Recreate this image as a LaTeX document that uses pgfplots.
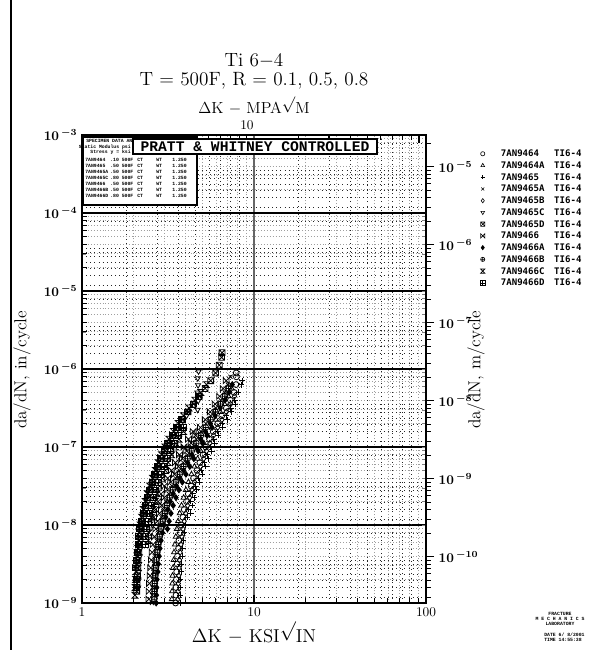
\documentclass[border=0pt]{standalone}
\usepackage{fontspec}
\usepackage{pgfplots}
\pgfplotsset{compat=1.18}
\newfontfamily\monofont{Liberation Mono}
\newfontfamily\legfont{DejaVu Sans Mono}
\newcommand{\rt}{\raisebox{0.3em}{$\surd$}}

% extra plot marks used by the specimen symbols
\pgfdeclareplotmark{boxx}{%
  \pgfpathrectangle{\pgfqpoint{-\pgfplotmarksize}{-\pgfplotmarksize}}{\pgfqpoint{2\pgfplotmarksize}{2\pgfplotmarksize}}%
  \pgfpathmoveto{\pgfqpoint{-\pgfplotmarksize}{-\pgfplotmarksize}}\pgfpathlineto{\pgfqpoint{\pgfplotmarksize}{\pgfplotmarksize}}%
  \pgfpathmoveto{\pgfqpoint{-\pgfplotmarksize}{\pgfplotmarksize}}\pgfpathlineto{\pgfqpoint{\pgfplotmarksize}{-\pgfplotmarksize}}%
  \pgfusepathqstroke}
\pgfdeclareplotmark{boxplus}{%
  \pgfpathrectangle{\pgfqpoint{-\pgfplotmarksize}{-\pgfplotmarksize}}{\pgfqpoint{2\pgfplotmarksize}{2\pgfplotmarksize}}%
  \pgfpathmoveto{\pgfqpoint{-\pgfplotmarksize}{0pt}}\pgfpathlineto{\pgfqpoint{\pgfplotmarksize}{0pt}}%
  \pgfpathmoveto{\pgfqpoint{0pt}{\pgfplotmarksize}}\pgfpathlineto{\pgfqpoint{0pt}{-\pgfplotmarksize}}%
  \pgfusepathqstroke}
\pgfdeclareplotmark{bowtie}{%
  \pgfpathmoveto{\pgfqpoint{-\pgfplotmarksize}{\pgfplotmarksize}}\pgfpathlineto{\pgfqpoint{\pgfplotmarksize}{-\pgfplotmarksize}}%
  \pgfpathlineto{\pgfqpoint{\pgfplotmarksize}{\pgfplotmarksize}}\pgfpathlineto{\pgfqpoint{-\pgfplotmarksize}{-\pgfplotmarksize}}%
  \pgfpathclose\pgfusepathqstroke}
\pgfdeclareplotmark{hourglass}{%
  \pgfpathmoveto{\pgfqpoint{-\pgfplotmarksize}{\pgfplotmarksize}}\pgfpathlineto{\pgfqpoint{\pgfplotmarksize}{\pgfplotmarksize}}%
  \pgfpathlineto{\pgfqpoint{-\pgfplotmarksize}{-\pgfplotmarksize}}\pgfpathlineto{\pgfqpoint{\pgfplotmarksize}{-\pgfplotmarksize}}%
  \pgfpathclose\pgfusepathqstroke}

\pgfplotsset{
  frame/.style={at={(61.5pt,35.25pt)}, anchor=south west, width=258pt, height=351pt, scale only axis},
  spec/.style={only marks, black, mark size=2.2pt, line width=0.6pt},
  tlab/.style={font=\fontsize{10}{11}\selectfont\boldmath},
}

\begin{document}
\begin{tikzpicture}[x=0.75pt, y=0.75pt]
\path[use as bounding box] (0,0) rectangle (613,650);
\draw[line width=0.8pt] (11,0) -- (11,650);

% fine dotted grid of the inch / ksi scales
\begin{axis}[frame, xmode=log, ymode=log, xmin=1, xmax=100, ymin=1e-9, ymax=1e-3,
  xtick={1,10,100}, ytick={1e-9,1e-3},
  minor xtick={2,3,4,5,6,7,8,9,20,30,40,50,60,70,80,90},
  minor ytick={2e-9,3e-9,4e-9,5e-9,6e-9,7e-9,8e-9,9e-9,2e-8,3e-8,4e-8,5e-8,6e-8,7e-8,8e-8,9e-8,
    2e-7,3e-7,4e-7,5e-7,6e-7,7e-7,8e-7,9e-7,2e-6,3e-6,4e-6,5e-6,6e-6,7e-6,8e-6,9e-6,
    2e-5,3e-5,4e-5,5e-5,6e-5,7e-5,8e-5,9e-5,2e-4,3e-4,4e-4,5e-4,6e-4,7e-4,8e-4,9e-4},
  xminorgrids, yminorgrids,
  minor grid style={gray!75, line width=0.5pt, dash pattern=on 0.6pt off 1.6pt},
  major tick length=0pt, minor tick length=0pt, xticklabels={}, yticklabels={},
  axis line style={draw=none}]
\end{axis}

% decade lines
\begin{axis}[frame, xmode=log, ymode=log, xmin=1, xmax=100, ymin=1e-9, ymax=1e-3,
  xtick={10}, ytick={1e-8,1e-7,1e-6,1e-5,1e-4},
  xmajorgrids, ymajorgrids,
  x grid style={gray!80!black, line width=1.3pt},
  y grid style={black, line width=0.9pt},
  major tick length=0pt, xticklabels={}, yticklabels={},
  axis line style={draw=none}]
\end{axis}

% top scale: Delta K in MPa sqrt(m)
\begin{axis}[frame, xmode=log, xmin=1.0988, xmax=109.88, ymin=0, ymax=1,
  axis x line*=top, hide y axis,
  xtick={10,100}, xticklabels={10,{}},
  minor xtick={2,3,4,5,6,7,8,9,20,30,40,50,60,70,80,90},
  xminorgrids, minor grid style={black!85, line width=0.45pt, dash pattern=on 0.5pt off 2.6pt},
  tick align=inside, major tick length=6pt, minor tick length=4pt,
  every tick/.style={black, line width=0.8pt},
  axis line style={line width=1.8pt},
  xticklabel style={tlab}]
\end{axis}

% right scale: da/dN in m/cycle
\begin{axis}[frame, ymode=log, ymin=2.54e-11, ymax=2.54e-5, xmin=0, xmax=1,
  axis y line*=right, hide x axis,
  ytick={1e-10,1e-9,1e-8,1e-7,1e-6,1e-5},
  yticklabels={$10^{\,-10}$,$10^{\,-9}$,$10^{\,-8}$,$10^{\,-7}$,$10^{\,-6}$,$10^{\,-5}$},
  minor ytick={3e-11,4e-11,5e-11,6e-11,7e-11,8e-11,9e-11,2e-10,3e-10,4e-10,5e-10,6e-10,7e-10,8e-10,9e-10,
    2e-9,3e-9,4e-9,5e-9,6e-9,7e-9,8e-9,9e-9,2e-8,3e-8,4e-8,5e-8,6e-8,7e-8,8e-8,9e-8,
    2e-7,3e-7,4e-7,5e-7,6e-7,7e-7,8e-7,9e-7,2e-6,3e-6,4e-6,5e-6,6e-6,7e-6,8e-6,9e-6,2e-5},
  yminorgrids, minor grid style={black!85, line width=0.45pt, dash pattern=on 0.5pt off 2.6pt},
  tick align=outside, major tick length=6pt, minor tick length=3.5pt,
  every tick/.style={black, line width=0.8pt},
  axis line style={line width=1.8pt},
  yticklabel style={tlab}]
\end{axis}

% crack growth data, inch / ksi scales
\begin{axis}[frame, xmode=log, ymode=log, xmin=1, xmax=100, ymin=1e-9, ymax=1e-3,
  xtick={1,10,100}, xticklabels={1,10,100},
  minor xtick={2,3,4,5,6,7,8,9,20,30,40,50,60,70,80,90},
  ytick={1e-9,1e-8,1e-7,1e-6,1e-5,1e-4,1e-3},
  yticklabels={$10^{\,-9}$,$10^{\,-8}$,$10^{\,-7}$,$10^{\,-6}$,$10^{\,-5}$,$10^{\,-4}$,$10^{\,-3}$},
  minor ytick={2e-9,3e-9,4e-9,5e-9,6e-9,7e-9,8e-9,9e-9,2e-8,3e-8,4e-8,5e-8,6e-8,7e-8,8e-8,9e-8,
    2e-7,3e-7,4e-7,5e-7,6e-7,7e-7,8e-7,9e-7,2e-6,3e-6,4e-6,5e-6,6e-6,7e-6,8e-6,9e-6,
    2e-5,3e-5,4e-5,5e-5,6e-5,7e-5,8e-5,9e-5,2e-4,3e-4,4e-4,5e-4,6e-4,7e-4,8e-4,9e-4},
  xtick pos=bottom, ytick pos=left, tick align=inside,
  major tick length=6pt, minor tick length=3.5pt,
  every tick/.style={black, line width=0.8pt},
  axis line style={line width=1.8pt},
  tick label style={tlab},
  axis on top,
  legend style={at={(axis description cs:1.158,0.973)}, anchor=north west, draw=none, fill=none,
    inner sep=0pt, row sep=0pt, font=\legfont\bfseries\fontsize{6.8}{7}\selectfont,
    cells={anchor=west}, nodes={inner sep=0pt, text height=6.6pt, text depth=2.2pt},
    /tikz/every odd column/.append style={column sep=12pt}},
  legend image code/.code={\draw[#1, mark size=1.6pt, line width=0.45pt] plot coordinates {(0pt,0pt)};}]

% 7AN9464
\addplot[spec, mark=o] coordinates {(3.50,1.00e-9)(3.52,1.26e-9)(3.51,1.58e-9)(3.54,2.00e-9)(3.55,2.51e-9)(3.58,3.16e-9)(3.59,3.98e-9)(3.64,5.01e-9)(3.66,6.31e-9)(3.73,7.94e-9)(3.77,1.00e-8)(3.86,1.26e-8)(3.93,1.58e-8)(4.05,2.00e-8)(4.15,2.51e-8)(4.31,3.16e-8)(4.45,3.98e-8)(4.66,5.01e-8)(4.84,6.31e-8)(5.06,7.94e-8)(5.24,1.00e-7)(5.51,1.26e-7)(5.79,1.58e-7)(6.16,2.00e-7)(6.49,2.51e-7)(6.91,3.16e-7)(7.29,3.98e-7)(7.66,5.01e-7)(7.86,6.31e-7)(7.90,7.94e-7)(7.88,8.91e-7)};
\addlegendentry{\makebox[40pt][l]{7AN9464}TI6-4}
% 7AN9464A
\addplot[spec, mark=triangle] coordinates {(3.33,1.12e-9)(3.34,1.41e-9)(3.35,1.78e-9)(3.36,2.24e-9)(3.38,2.82e-9)(3.41,3.55e-9)(3.43,4.47e-9)(3.47,5.62e-9)(3.51,7.08e-9)(3.56,8.91e-9)(3.62,1.12e-8)(3.70,1.41e-8)(3.79,1.78e-8)(3.90,2.24e-8)(4.02,2.82e-8)(4.16,3.55e-8)(4.33,4.47e-8)(4.51,5.62e-8)(4.70,7.08e-8)(4.89,8.91e-8)(5.11,1.12e-7)(5.37,1.41e-7)(5.68,1.78e-7)(6.01,2.24e-7)(6.37,2.82e-7)(6.75,3.55e-7)(7.10,4.47e-7)(7.41,5.62e-7)};
\addlegendentry{\makebox[40pt][l]{7AN9464A}TI6-4}
% 7AN9465
\addplot[spec, mark=+] coordinates {(3.71,1.00e-9)(3.72,1.26e-9)(3.73,1.58e-9)(3.74,2.00e-9)(3.76,2.51e-9)(3.78,3.16e-9)(3.82,3.98e-9)(3.85,5.01e-9)(3.89,6.31e-9)(3.94,7.94e-9)(4.01,1.00e-8)(4.08,1.26e-8)(4.18,1.58e-8)(4.28,2.00e-8)(4.41,2.51e-8)(4.56,3.16e-8)(4.73,3.98e-8)(4.93,5.01e-8)(5.14,6.31e-8)(5.35,7.94e-8)(5.57,1.00e-7)(5.83,1.26e-7)(6.15,1.58e-7)(6.52,2.00e-7)(6.89,2.51e-7)(7.31,3.16e-7)(7.74,3.98e-7)(8.11,5.01e-7)(8.43,6.31e-7)(8.56,7.08e-7)
  (4.28,1.41e-8)(4.39,1.78e-8)(4.51,2.24e-8)(4.65,2.82e-8)(4.82,3.55e-8)(5.01,4.47e-8)(5.23,5.62e-8)(5.45,7.08e-8)(5.67,8.91e-8)(5.91,1.12e-7)(6.22,1.41e-7)(6.57,1.78e-7)(6.96,2.24e-7)(7.37,2.82e-7)(7.81,3.55e-7)};
\addlegendentry{\makebox[40pt][l]{7AN9465}TI6-4}
% 7AN9465A
\addplot[spec, mark=x] coordinates {(2.55,1.00e-9)(2.56,1.26e-9)(2.57,1.58e-9)(2.58,2.00e-9)(2.60,2.51e-9)(2.62,3.16e-9)(2.65,3.98e-9)(2.68,5.01e-9)(2.72,6.31e-9)(2.77,7.94e-9)(2.83,1.00e-8)(2.90,1.26e-8)(2.98,1.58e-8)(3.08,2.00e-8)(3.20,2.51e-8)(3.34,3.16e-8)(3.50,3.98e-8)(3.68,5.01e-8)(3.88,6.31e-8)(4.10,7.94e-8)(4.35,1.00e-7)(4.62,1.26e-7)(4.92,1.58e-7)(5.25,2.00e-7)(5.60,2.51e-7)(6.00,3.16e-7)(6.40,3.98e-7)(6.75,5.01e-7)(7.05,6.31e-7)(7.30,7.94e-7)};
\addlegendentry{\makebox[40pt][l]{7AN9465A}TI6-4}
% 7AN9465B
\addplot[spec, mark=diamond] coordinates {(3.61,1.12e-9)(3.62,1.41e-9)(3.63,1.78e-9)(3.65,2.24e-9)(3.67,2.82e-9)(3.69,3.55e-9)(3.72,4.47e-9)(3.76,5.62e-9)(3.81,7.08e-9)(3.86,8.91e-9)(3.93,1.12e-8)(4.01,1.41e-8)(4.11,1.78e-8)(4.22,2.24e-8)(4.36,2.82e-8)(4.51,3.55e-8)(4.69,4.47e-8)(4.89,5.62e-8)(5.10,7.08e-8)(5.30,8.91e-8)(5.54,1.12e-7)(5.82,1.41e-7)(6.15,1.78e-7)(6.51,2.24e-7)(6.90,2.82e-7)(7.31,3.55e-7)(7.70,4.47e-7)};
\addlegendentry{\makebox[40pt][l]{7AN9465B}TI6-4}
% 7AN9465C
\addplot[spec, mark=triangle, mark options={rotate=180}] coordinates {(2.12,1.58e-9)(2.13,2.00e-9)(2.14,2.51e-9)(2.15,3.16e-9)(2.17,3.98e-9)(2.19,5.01e-9)(2.21,6.31e-9)(2.23,7.94e-9)(2.26,1.00e-8)(2.32,1.26e-8)(2.37,1.58e-8)(2.43,2.00e-8)(2.50,2.51e-8)(2.58,3.16e-8)(2.67,3.98e-8)(2.77,5.01e-8)(2.89,6.31e-8)(3.02,7.94e-8)(3.16,1.00e-7)(3.34,1.26e-7)(3.54,1.58e-7)(3.77,2.00e-7)(4.05,2.51e-7)(4.70,3.00e-7)(4.74,3.90e-7)(4.68,5.00e-7)(4.73,6.20e-7)(4.71,7.60e-7)(4.76,9.30e-7)};
\addlegendentry{\makebox[40pt][l]{7AN9465C}TI6-4}
% 7AN9465D
\addplot[spec, mark=boxx] coordinates {(2.08,1.41e-9)(2.09,1.78e-9)(2.10,2.24e-9)(2.11,2.82e-9)(2.12,3.55e-9)(2.14,4.47e-9)(2.16,5.62e-9)(2.18,7.08e-9)(2.21,8.91e-9)(2.25,1.12e-8)(2.30,1.41e-8)(2.35,1.78e-8)(2.42,2.24e-8)(2.49,2.82e-8)(2.58,3.55e-8)(2.67,4.47e-8)(2.78,5.62e-8)(2.90,7.08e-8)(3.03,8.91e-8)(3.19,1.12e-7)(3.37,1.41e-7)(3.59,1.78e-7)(3.84,2.24e-7)(4.13,2.82e-7)(4.45,3.55e-7)(4.81,4.47e-7)(5.20,5.62e-7)(5.60,7.08e-7)(5.98,8.91e-7)(6.28,1.12e-6)(6.48,1.41e-6)(6.52,1.62e-6)};
\addlegendentry{\makebox[40pt][l]{7AN9465D}TI6-4}
% 7AN9466
\addplot[spec, mark=bowtie] coordinates {(2.45,1.12e-9)(2.46,1.41e-9)(2.47,1.78e-9)(2.49,2.24e-9)(2.51,2.82e-9)(2.53,3.55e-9)(2.56,4.47e-9)(2.59,5.62e-9)(2.64,7.08e-9)(2.69,8.91e-9)(2.75,1.12e-8)(2.82,1.41e-8)(2.91,1.78e-8)(3.01,2.24e-8)(3.14,2.82e-8)(3.28,3.55e-8)(3.45,4.47e-8)(3.63,5.62e-8)(3.83,7.08e-8)(4.06,8.91e-8)(4.31,1.12e-7)(4.58,1.41e-7)(4.88,1.78e-7)(5.21,2.24e-7)(5.57,2.82e-7)(5.95,3.55e-7)(6.31,4.47e-7)(6.62,5.62e-7)(6.89,7.08e-7)
  (2.61,1.26e-8)(2.68,1.58e-8)(2.77,2.00e-8)(2.88,2.51e-8)(3.01,3.16e-8)(3.15,3.98e-8)(3.31,5.01e-8)(3.49,6.31e-8)(3.69,7.94e-8)(3.92,1.00e-7)(4.16,1.26e-7)(4.43,1.58e-7)};
\addlegendentry{\makebox[40pt][l]{7AN9466}TI6-4}
% 7AN9466A
\addplot[spec, mark=diamond*] coordinates {(2.70,1.00e-9)(2.71,1.26e-9)(2.72,1.58e-9)(2.73,2.00e-9)(2.76,2.51e-9)(2.78,3.16e-9)(2.81,3.98e-9)(2.84,5.01e-9)(2.88,6.31e-9)(2.94,7.94e-9)(3.00,1.00e-8)(3.07,1.26e-8)(3.16,1.58e-8)(3.26,2.00e-8)(3.39,2.51e-8)(3.54,3.16e-8)(3.71,3.98e-8)(3.90,5.01e-8)(4.11,6.31e-8)(4.35,7.94e-8)(4.61,1.00e-7)(4.90,1.26e-7)(5.22,1.58e-7)(5.57,2.00e-7)(5.94,2.51e-7)(6.36,3.16e-7)(6.78,3.98e-7)(7.16,5.01e-7)(7.47,6.31e-7)
  (3.14,8.91e-9)(3.21,1.12e-8)(3.29,1.41e-8)(3.39,1.78e-8)(3.52,2.24e-8)(3.66,2.82e-8)(3.83,3.55e-8)(4.02,4.47e-8)(4.23,5.62e-8)(4.47,7.08e-8)(4.73,8.91e-8)(5.02,1.12e-7)(5.34,1.41e-7)(5.70,1.78e-7)};
\addlegendentry{\makebox[40pt][l]{7AN9466A}TI6-4}
% 7AN9466B
\addplot[spec, mark=oplus] coordinates {(2.63,1.12e-9)(2.64,1.41e-9)(2.65,1.78e-9)(2.67,2.24e-9)(2.69,2.82e-9)(2.71,3.55e-9)(2.74,4.47e-9)(2.78,5.62e-9)(2.83,7.08e-9)(2.88,8.91e-9)(2.95,1.12e-8)(3.03,1.41e-8)(3.12,1.78e-8)(3.23,2.24e-8)(3.37,2.82e-8)(3.52,3.55e-8)(3.70,4.47e-8)(3.89,5.62e-8)(4.11,7.08e-8)(4.35,8.91e-8)(4.62,1.12e-7)(4.91,1.41e-7)(5.24,1.78e-7)(5.59,2.24e-7)(5.97,2.82e-7)(6.39,3.55e-7)(6.77,4.47e-7)(7.11,5.62e-7)};
\addlegendentry{\makebox[40pt][l]{7AN9466B}TI6-4}
% 7AN9466C
\addplot[spec, mark=hourglass] coordinates {(2.03,1.26e-9)(2.04,1.58e-9)(2.05,2.00e-9)(2.06,2.51e-9)(2.07,3.16e-9)(2.09,3.98e-9)(2.11,5.01e-9)(2.13,6.31e-9)(2.15,7.94e-9)(2.18,1.00e-8)(2.22,1.26e-8)(2.27,1.58e-8)(2.33,2.00e-8)(2.40,2.51e-8)(2.48,3.16e-8)(2.57,3.98e-8)(2.67,5.01e-8)(2.77,6.31e-8)(2.90,7.94e-8)(3.04,1.00e-7)(3.20,1.26e-7)(3.40,1.58e-7)(3.63,2.00e-7)(3.89,2.51e-7)(4.19,3.16e-7)(4.53,3.98e-7)(4.90,5.01e-7)(5.29,6.31e-7)
  (2.43,6.31e-9)(2.45,7.94e-9)(2.49,1.00e-8)(2.54,1.26e-8)(2.60,1.58e-8)(2.67,2.00e-8)(2.74,2.51e-8)(2.83,3.16e-8)(2.93,3.98e-8)(3.05,5.01e-8)(3.17,6.31e-8)(3.32,7.94e-8)(3.47,1.00e-7)(3.66,1.26e-7)(3.89,1.58e-7)};
\addlegendentry{\makebox[40pt][l]{7AN9466C}TI6-4}
% 7AN9466D
\addplot[spec, mark=boxplus] coordinates {(2.07,1.58e-9)(2.08,2.00e-9)(2.05,2.82e-9)(2.07,3.55e-9)(2.10,4.47e-9)(2.12,5.62e-9)(2.14,7.08e-9)(2.16,8.91e-9)(2.22,1.12e-8)(2.27,1.41e-8)(2.33,1.78e-8)(2.39,2.24e-8)(2.47,2.82e-8)(2.55,3.55e-8)(2.64,4.47e-8)(2.75,5.62e-8)(2.87,7.08e-8)(3.00,8.91e-8)(3.15,1.12e-7)(3.34,1.41e-7)(3.55,1.78e-7)(3.80,2.24e-7)(4.08,2.82e-7)(4.41,3.55e-7)(4.76,4.47e-7)
  (2.33,5.62e-9)(2.35,7.08e-9)(2.38,8.91e-9)(2.42,1.12e-8)(2.48,1.41e-8)(2.54,1.78e-8)(2.61,2.24e-8)(2.69,2.82e-8)(2.78,3.55e-8)(2.88,4.47e-8)(3.00,5.62e-8)(3.13,7.08e-8)(3.27,8.91e-8)(3.44,1.12e-7)(3.64,1.41e-7)(3.87,1.78e-7)};
\addlegendentry{\makebox[40pt][l]{7AN9466D}TI6-4}
\end{axis}

% titles and axis names
\node[inner sep=0pt, font=\fontsize{14.4}{16}\selectfont] at (254,589) {Ti 6$-$4};
\node[inner sep=0pt, font=\fontsize{14.4}{16}\selectfont] at (254,569) {T = 500F, R = 0.1, 0.5, 0.8};
\node[inner sep=0pt, font=\fontsize{12}{14}\selectfont] at (254,544) {$\Delta$K $-$ MPA\rt M};
\node[font=\fontsize{14}{16}\selectfont] at (254,17) {$\Delta$K $-$ KSI\rt IN};
\node[font=\fontsize{13}{15}\selectfont, rotate=90] at (22,280) {da/dN, in/cycle};
\node[font=\fontsize{13}{15}\selectfont, rotate=90] at (476,280) {da/dN, m/cycle};

% specimen data block
\draw[line width=1.5pt, fill=white] (83,513) rectangle (197,445);
\begin{scope}[font=\monofont\bfseries\fontsize{3.6}{4}\selectfont]
\node[anchor=west, inner sep=0pt] at (86,509) {SPECIMEN DATA AND};
\node[anchor=east, inner sep=0pt] at (131,503) {Static Modulus psi};
\node[anchor=east, inner sep=0pt] at (131,498) {Stress y = ksi};
\foreach \r/\a/\b/\c/\d/\e in {490/7AN9464/.10 500F/CT/WT/1.250,
  484/7AN9465/.50 500F/CT/WT/1.250, 478/7AN9465A/.50 500F/CT/WT/1.250,
  472/7AN9465C/.80 500F/CT/WT/1.250, 466/7AN9466/.50 500F/CT/WT/1.250,
  460/7AN9466B/.50 500F/CT/WT/1.250, 454/7AN9466D/.80 500F/CT/WT/1.250} {
  \node[anchor=west, inner sep=0pt] at (85,\r) {\a};
  \node[anchor=west, inner sep=0pt] at (110,\r) {\b};
  \node[anchor=west, inner sep=0pt] at (137,\r) {\c};
  \node[anchor=west, inner sep=0pt] at (156,\r) {\d};
  \node[anchor=west, inner sep=0pt] at (172,\r) {\e};
}
\end{scope}
\node[draw, line width=1.5pt, fill=white, inner sep=0pt, minimum width=183pt, minimum height=11.25pt,
  font=\monofont\bfseries\fontsize{11}{12}\selectfont] at (255,503.5) {PRATT \& WHITNEY CONTROLLED};

% lab stamp
\begin{scope}[font=\monofont\bfseries\fontsize{3.6}{4}\selectfont, inner sep=0pt]
\node at (560,36) {FRACTURE};
\node at (560,31) {M E C H A N I C S};
\node at (560,26) {LABORATORY};
\node[anchor=west] at (544,15) {DATE 6/ 8/2001};
\node[anchor=west] at (544,10) {TIME 14:55:38};
\end{scope}
\end{tikzpicture}
\end{document}
